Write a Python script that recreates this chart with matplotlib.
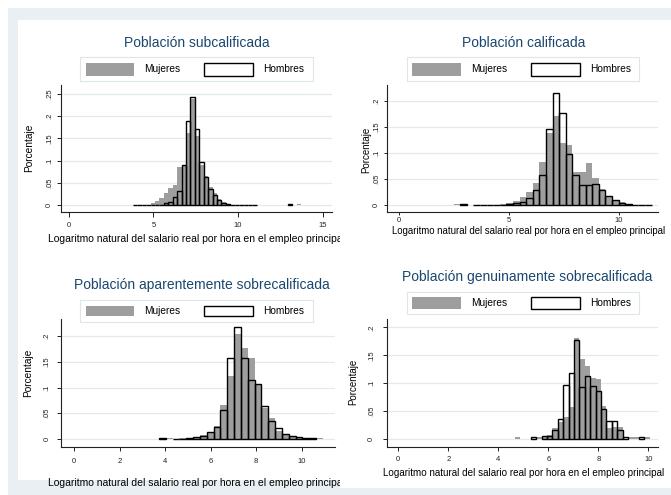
import numpy as np
import matplotlib.pyplot as plt
from matplotlib.patches import Rectangle
from matplotlib.transforms import Bbox, TransformedBbox

plt.rcParams['font.family'] = ['Liberation Sans', 'DejaVu Sans']

W, H = 671, 495

# histogram data: left edge of first bin, bin width, fractions per bin
start1, width1 = 3.78, 0.262
women1 = [0, 0, 0, 0.001, 0.004, 0.009, 0.016, 0.026, 0.038, 0.046, 0.085, 0.088,
          0.162, 0.238, 0.155, 0.089, 0.065, 0.04, 0.027, 0.0135, 0.007, 0.003, 0.001,
          0, 0, 0, 0, 0, 0, 0, 0, 0, 0, 0, 0, 0, 0, 0.002]
men1 = [0.0008, 0.0008, 0.0008, 0.0008, 0.0008, 0.0008, 0.0008, 0.005, 0.007, 0.017,
        0.032, 0.089, 0.188, 0.242, 0.171, 0.097, 0.062, 0.037, 0.0225, 0.011, 0.005,
        0.0025, 0.0008, 0.0008, 0.0008, 0.0008, 0.0008, 0.0008,
        0, 0, 0, 0, 0, 0, 0, 0.002, 0, 0]

start2, width2 = 2.48, 0.30
women2 = [0.002, 0, 0, 0, 0, 0, 0, 0.002, 0.004, 0.008, 0.015, 0.025, 0.043, 0.083,
          0.138, 0.171, 0.12, 0.115, 0.063, 0.064, 0.08, 0.051, 0.031, 0.017, 0.01,
          0.005, 0.002, 0, 0, 0]
men2 = [0, 0.002, 0, 0.0008, 0.0008, 0.0008, 0.0008, 0.0008, 0.001, 0.003, 0.006,
        0.014, 0.029, 0.058, 0.147, 0.215, 0.176, 0.099, 0.058, 0.038, 0.038, 0.04,
        0.029, 0.017, 0.009, 0.004, 0.002, 0.0008, 0.0008, 0.0008]

start3, width3 = 3.73, 0.30
women3 = [0, 0.002, 0, 0.001, 0.002, 0.004, 0.007, 0.014, 0.025, 0.066, 0.122, 0.204,
          0.176, 0.157, 0.104, 0.061, 0.04, 0.0155, 0.009, 0.005, 0.003, 0.002, 0.001,
          0.002]
men3 = [0.002, 0, 0.0008, 0.0008, 0.002, 0.004, 0.006, 0.013, 0.0225, 0.057, 0.157,
        0.217, 0.157, 0.114, 0.107, 0.064, 0.034, 0.021, 0.0097, 0.006, 0.004, 0.002,
        0.001, 0]

start4, width4 = 4.65, 0.216
women4 = [0.003, 0, 0, 0, 0.003, 0.003, 0.008, 0.02, 0.03, 0.04, 0.057, 0.181, 0.143,
          0.13, 0.11, 0.108, 0.06, 0.02, 0.022, 0.022, 0, 0.003, 0.003, 0, 0.003]
men4 = [0, 0, 0, 0.003, 0, 0.005, 0.005, 0.016, 0.035, 0.097, 0.119, 0.177, 0.094,
        0.112, 0.095, 0.086, 0.053, 0.032, 0.032, 0.016, 0.003, 0, 0, 0.003, 0]

titles = ["Población subcalificada", "Población calificada",
          "Población aparentemente sobrecalificada", "Población genuinamente sobrecalificada"]
xlabel = "Logaritmo natural del salario real por hora en el empleo principal"
ylabel = "Porcentaje"
legend_labels = ["Mujeres", "Hombres"]

xticks1 = [0, 5, 10, 15]
xticks2 = [0, 5, 10]
xticks34 = [0, 2, 4, 6, 8, 10]
yticks1 = [0, 0.05, 0.1, 0.15, 0.2, 0.25]
ylabels1 = ["0", ".05", ".1", ".15", ".2", ".25"]
yticks2 = [0, 0.05, 0.1, 0.15, 0.2]
ylabels2 = ["0", ".05", ".1", ".15", ".2"]

GRAY = '#9e9e9e'
TITLE_C = '#1a476f'
GRID_C = '#e2eaee'
BAND_C = '#e9eff2'

panels = [
    dict(box=(61, 85, 332, 212), xlim=(-0.47, 15.56), ylim=(-0.0158, 0.270),
         data=(start1, width1, women1, men1), xt=xticks1, yt=yticks1, yl=ylabels1,
         title=(197, 43), leg=(80, 57, 313, 81), ylab=(29, 148, 7.3),
         xlab=(196, 239, 7.45, 340), ytk=(4, 3.0), xtk=(5, 3.6)),
    dict(box=(387.3, 85, 658, 212), xlim=(-0.53, 11.77), ylim=(-0.0135, 0.2308),
         data=(start2, width2, women2, men2), xt=xticks2, yt=yticks2, yl=ylabels2,
         title=(524, 43), leg=(406.7, 57, 639, 81), ylab=(366.7, 150, 7.0),
         xlab=(529, 231, 6.95, None), ytk=(3, 3.0), xtk=(3, 1.5)),
    dict(box=(61, 319.3, 335, 446.7), xlim=(-0.571, 11.46), ylim=(-0.015, 0.2325),
         data=(start3, width3, women3, men3), xt=xticks34, yt=yticks2, yl=ylabels2,
         title=(202, 285), leg=(80, 300, 313, 321.7), ylab=(28, 373, 7.3),
         xlab=(196, 483, 7.45, 340), ytk=(4, 4.5), xtk=(4, 5.0)),
    dict(box=(387.3, 319.3, 658, 446.7), xlim=(-0.44, 10.39), ylim=(-0.0138, 0.2145),
         data=(start4, width4, women4, men4), xt=xticks34, yt=yticks2, yl=ylabels2,
         title=(527, 277), leg=(406.7, 291.7, 639, 314.3), ylab=(353, 382, 7.0),
         xlab=(524, 473, 7.1, None), ytk=(4, 5.8), xtk=(4, 3.8)),
]


def fx(x):
    return x / W


def fy(y):
    return 1 - y / H


def px_rect(x0, y0, x1, y1, **kw):
    return Rectangle((fx(x0), fy(y1)), (x1 - x0) / W, (y1 - y0) / H,
                     transform=fig.transFigure, **kw)


fig = plt.figure(figsize=(W / 100, H / 100), dpi=100)
fig.patch.set_facecolor('white')

# outer light band and white inner regions
fig.add_artist(px_rect(8, 8, W, H, facecolor=BAND_C, edgecolor='none', zorder=-20))
fig.add_artist(px_rect(18, 20, 340, 480, facecolor='white', edgecolor='none', zorder=-19))
fig.add_artist(px_rect(340, 20, W, 488, facecolor='white', edgecolor='none', zorder=-19))

for i, p in enumerate(panels):
    x0, y0, x1, y1 = p['box']
    ax = fig.add_axes([fx(x0), fy(y1), (x1 - x0) / W, (y1 - y0) / H])
    ax.patch.set_visible(False)
    start, width, women, men = p['data']
    women = np.asarray(women, dtype=float)
    men = np.asarray(men, dtype=float)
    edges = start + width * np.arange(len(women))
    keep = women > 0
    ax.bar(edges[keep], women[keep], width=width, align='edge', color=GRAY,
           linewidth=0, zorder=2)
    keep = men > 0
    ax.bar(edges[keep], men[keep], width=width, align='edge', fill=False,
           edgecolor='black', linewidth=1.0, zorder=3)

    ax.set_xlim(*p['xlim'])
    ax.set_ylim(*p['ylim'])
    ax.set_xticks(p['xt'])
    ax.set_xticklabels([str(t) for t in p['xt']])
    ax.set_yticks(p['yt'])
    ax.set_yticklabels(p['yl'], rotation=90, va='center')
    ax.yaxis.grid(True, color=GRID_C, linewidth=0.9)
    ax.set_axisbelow(True)
    for s in ('top', 'right'):
        ax.spines[s].set_visible(False)
    for s in ('left', 'bottom'):
        ax.spines[s].set_color('#222222')
        ax.spines[s].set_linewidth(0.8)
    ax.tick_params(axis='y', length=p['ytk'][0] * 0.72, pad=p['ytk'][1],
                   labelsize=5.5, width=0.7, colors='#222222')
    ax.tick_params(axis='x', length=p['xtk'][0] * 0.72, pad=p['xtk'][1],
                   labelsize=5.5, width=0.7, colors='#222222')

    tx, ty = p['title']
    fig.text(fx(tx), fy(ty), titles[i], ha='center', va='center',
             fontsize=10, color=TITLE_C)

    lx0, ly0, lx1, ly1 = p['leg']
    fig.add_artist(px_rect(lx0, ly0, lx1, ly1, facecolor='white',
                           edgecolor='#dde6ea', linewidth=0.8, zorder=4))
    fig.add_artist(px_rect(lx0 + 5.5, ly0 + 5.5, lx0 + 54, ly1 - 5.5,
                           facecolor=GRAY, edgecolor='none', zorder=5))
    fig.add_artist(px_rect(lx0 + 124.5, ly0 + 5.5, lx0 + 173, ly1 - 5.5,
                           facecolor='white', edgecolor='black', linewidth=1.0, zorder=5))
    ly = (ly0 + ly1) / 2
    fig.text(fx(lx0 + 64), fy(ly), legend_labels[0], ha='left', va='center',
             fontsize=7.3, zorder=6)
    fig.text(fx(lx0 + 183), fy(ly), legend_labels[1], ha='left', va='center',
             fontsize=7.3, zorder=6)

    yx, yy, ys = p['ylab']
    fig.text(fx(yx), fy(yy), ylabel, rotation=90, ha='center', va='center', fontsize=ys)

    lx, lyy, ls, clip = p['xlab']
    t = fig.text(fx(lx), fy(lyy), xlabel, ha='center', va='center', fontsize=ls)
    if clip is not None:
        t.set_clip_box(TransformedBbox(Bbox([[0, 0], [fx(clip), 1]]), fig.transFigure))
        t.set_clip_on(True)

fig.savefig('out.png', dpi=100)
